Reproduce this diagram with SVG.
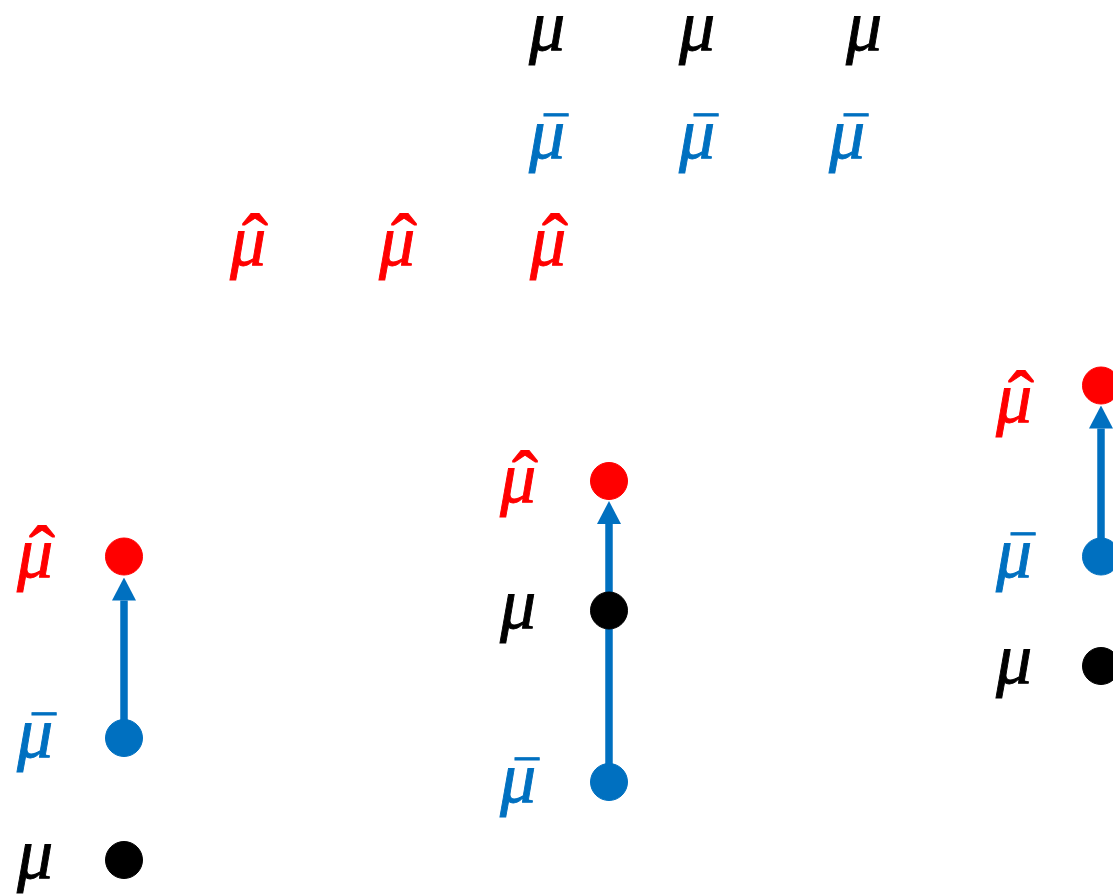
<svg xmlns="http://www.w3.org/2000/svg" width="1113" height="895" viewBox="0 0 1113 895">
  <style>
    .sym { font-family: "Liberation Serif", "DejaVu Serif", serif; font-style: italic; font-size: 72px; text-anchor: middle; stroke-width: 0.9; }
    .bar { font-style: normal; font-size: 62px; }
    .hat { font-style: normal; font-size: 78px; }
    .k { fill: #000000; stroke: #000000; }
    .b { fill: #0070C0; stroke: #0070C0; }
    .r { fill: #FF0000; stroke: #FF0000; }
    circle { stroke: none; }
    .link { stroke: #0070C0; stroke-width: 7.5; fill: none; }
  </style>
  <defs>
    <marker id="head" viewBox="0 0 23 24" refX="0" refY="12" markerWidth="23" markerHeight="24" markerUnits="userSpaceOnUse" orient="auto">
      <path d="M0,0 L23,12 L0,24 Z" fill="#0070C0"/>
    </marker>
  </defs>

  <!-- symbol key: plain, bar and hat estimates -->
  <g id="key-mu">
    <text class="sym k" x="547" y="50">μ</text>
    <text class="sym k" x="697" y="50">μ</text>
    <text class="sym k" x="864" y="50">μ</text>
  </g>
  <g id="key-mubar">
    <text class="sym b" x="547" y="158">μ<tspan class="bar" x="556" y="162">‾</tspan></text>
    <text class="sym b" x="697" y="158">μ<tspan class="bar" x="706" y="162">‾</tspan></text>
    <text class="sym b" x="847" y="158">μ<tspan class="bar" x="856" y="162">‾</tspan></text>
  </g>
  <g id="key-muhat">
    <text class="sym r" x="248" y="265">μ<tspan class="hat" x="255" y="268">ˆ</tspan></text>
    <text class="sym r" x="397" y="265">μ<tspan class="hat" x="404" y="268">ˆ</tspan></text>
    <text class="sym r" x="548" y="265">μ<tspan class="hat" x="555" y="268">ˆ</tspan></text>
  </g>

  <!-- shift arrows from the sample mean up to the estimate -->
  <g id="connectors">
    <line class="link" x1="124" y1="738" x2="124" y2="600.5" marker-end="url(#head)"/>
    <line class="link" x1="609" y1="782" x2="609" y2="524" marker-end="url(#head)"/>
    <line class="link" x1="1101" y1="556" x2="1101" y2="428.5" marker-end="url(#head)"/>
  </g>

  <!-- left column -->
  <g id="left-muhat">
    <circle cx="124" cy="556.5" r="18.5" class="r"/>
    <text class="sym r" x="35" y="577">μ<tspan class="hat" x="42" y="580">ˆ</tspan></text>
  </g>
  <g id="left-mubar">
    <circle cx="124" cy="738" r="18.5" class="b"/>
    <text class="sym b" x="35" y="757">μ<tspan class="bar" x="44" y="761">‾</tspan></text>
  </g>
  <g id="left-mu">
    <circle cx="124" cy="860" r="18.5" class="k"/>
    <text class="sym k" x="35" y="878">μ</text>
  </g>

  <!-- middle column -->
  <g id="mid-muhat">
    <circle cx="609" cy="481" r="18.5" class="r"/>
    <text class="sym r" x="518" y="502">μ<tspan class="hat" x="525" y="505">ˆ</tspan></text>
  </g>
  <g id="mid-mu">
    <circle cx="609" cy="610.5" r="18.5" class="k"/>
    <text class="sym k" x="518" y="628">μ</text>
  </g>
  <g id="mid-mubar">
    <circle cx="609" cy="782" r="18.5" class="b"/>
    <text class="sym b" x="518" y="802">μ<tspan class="bar" x="527" y="806">‾</tspan></text>
  </g>

  <!-- right column -->
  <g id="right-muhat">
    <circle cx="1101" cy="385.5" r="18.5" class="r"/>
    <text class="sym r" x="1014" y="422">μ<tspan class="hat" x="1021" y="425">ˆ</tspan></text>
  </g>
  <g id="right-mubar">
    <circle cx="1101" cy="556.5" r="18.5" class="b"/>
    <text class="sym b" x="1014" y="577">μ<tspan class="bar" x="1023" y="581">‾</tspan></text>
  </g>
  <g id="right-mu">
    <circle cx="1101" cy="666" r="18.5" class="k"/>
    <text class="sym k" x="1014" y="683">μ</text>
  </g>
</svg>
